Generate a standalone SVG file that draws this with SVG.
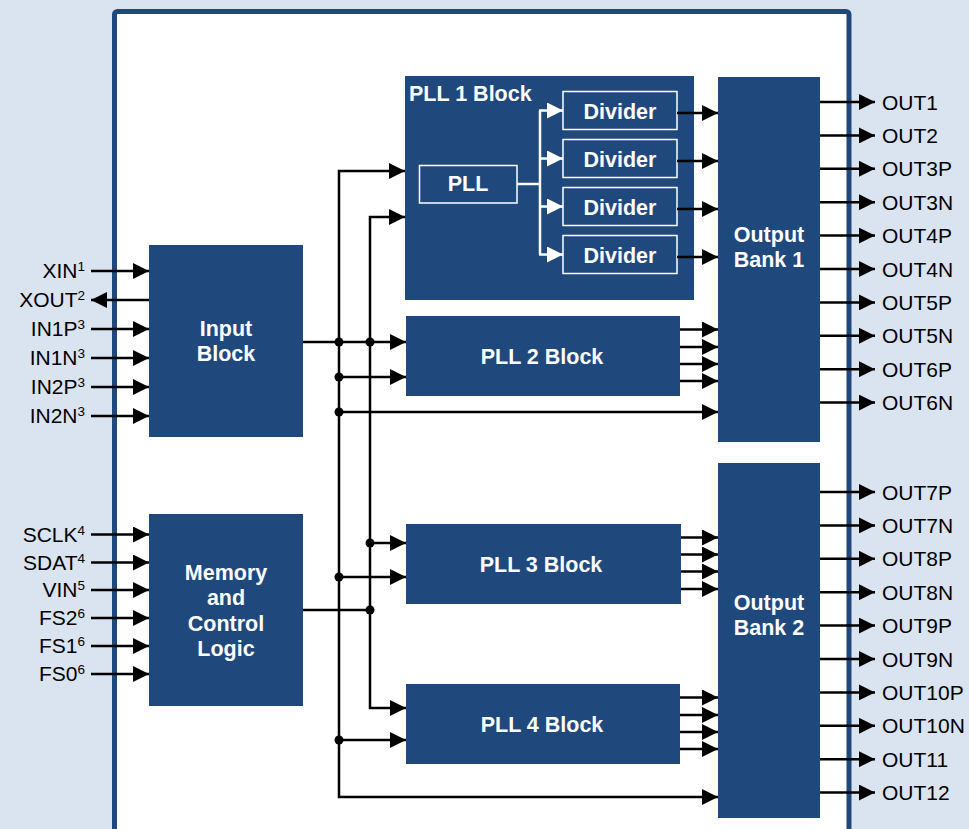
<svg xmlns="http://www.w3.org/2000/svg" width="969" height="829" viewBox="0 0 969 829">
<defs>
<style>
.blk{fill:#1f497d}
.inner{fill:#1f497d;stroke:#fff;stroke-width:1.5}
.lbl{font-family:"Liberation Sans",Arial,sans-serif;font-weight:bold;font-size:21.5px;fill:#fff;text-anchor:middle}
.pin{font-family:"Liberation Sans",Arial,sans-serif;font-size:21px;fill:#000}
.pinl{text-anchor:end}
.sup{font-size:13.5px}
.wire{fill:none;stroke:#000;stroke-width:2.5}
.wwire{fill:none;stroke:#fff;stroke-width:2.5}
.dot{fill:#000}
</style>
<marker id="ah" markerUnits="userSpaceOnUse" markerWidth="16" markerHeight="16" refX="16" refY="8" orient="auto" viewBox="0 0 16 16">
<path d="M0,0 L16,8 L0,16 z" fill="#000"/>
</marker>
<marker id="wah" markerUnits="userSpaceOnUse" markerWidth="16" markerHeight="16" refX="16" refY="8" orient="auto" viewBox="0 0 16 16">
<path d="M0,0 L16,8 L0,16 z" fill="#fff"/>
</marker>
</defs>
<rect x="0" y="0" width="969" height="829" fill="#dae3f0"/>
<rect id="chip" x="114.5" y="11.5" width="734.5" height="830" rx="3" fill="#fff" stroke="#1f497d" stroke-width="5"/>

<g id="input-block">
<rect class="blk" x="149" y="245" width="154" height="192"/>
<text class="lbl" x="226" y="336">Input</text>
<text class="lbl" x="226" y="361">Block</text>
</g>
<g id="memory-control">
<rect class="blk" x="149" y="514" width="154" height="192"/>
<text class="lbl" x="226" y="580">Memory</text>
<text class="lbl" x="226" y="605">and</text>
<text class="lbl" x="226" y="631">Control</text>
<text class="lbl" x="226" y="656">Logic</text>
</g>
<g id="pll1-block">
<rect class="blk" x="405" y="76" width="289" height="224"/>
<text class="lbl" x="409" y="101" style="text-anchor:start">PLL 1 Block</text>
<g id="pll1-pll">
<rect class="inner" x="419.5" y="165.5" width="97.5" height="37.5"/>
<text class="lbl" x="468" y="191">PLL</text>
</g>
<g id="divider1"><rect class="inner" x="563" y="91.5" width="114" height="38"/><text class="lbl" x="620" y="118.5">Divider</text></g>
<g id="divider2"><rect class="inner" x="563" y="139.5" width="114" height="38"/><text class="lbl" x="620" y="166.5">Divider</text></g>
<g id="divider3"><rect class="inner" x="563" y="187.5" width="114" height="38"/><text class="lbl" x="620" y="214.5">Divider</text></g>
<g id="divider4"><rect class="inner" x="563" y="235.5" width="114" height="38"/><text class="lbl" x="620" y="262.5">Divider</text></g>
</g>
<g id="pll2-block">
<rect class="blk" x="406" y="316" width="274" height="80"/>
<text class="lbl" x="542" y="364">PLL 2 Block</text>
</g>
<g id="pll3-block">
<rect class="blk" x="406" y="524" width="275" height="80"/>
<text class="lbl" x="541" y="572">PLL 3 Block</text>
</g>
<g id="pll4-block">
<rect class="blk" x="406" y="684" width="274" height="80"/>
<text class="lbl" x="542" y="732">PLL 4 Block</text>
</g>
<g id="output-bank1">
<rect class="blk" x="718" y="77" width="102" height="365"/>
<text class="lbl" x="769" y="242">Output</text>
<text class="lbl" x="769" y="267">Bank 1</text>
</g>
<g id="output-bank2">
<rect class="blk" x="718" y="463" width="102" height="355"/>
<text class="lbl" x="769" y="610">Output</text>
<text class="lbl" x="769" y="635">Bank 2</text>
</g>

<g id="connectors">
<path class="wwire" d="M517,184 H540" stroke-width="3"/>
<path class="wwire" d="M540,110.5 V254.5"/>
<path class="wwire" marker-end="url(#wah)" d="M539,110.5 H563"/>
<path class="wwire" marker-end="url(#wah)" d="M539,158.5 H563"/>
<path class="wwire" marker-end="url(#wah)" d="M539,206.5 H563"/>
<path class="wwire" marker-end="url(#wah)" d="M539,254.5 H563"/>
<path class="wire" marker-end="url(#ah)" d="M91,271 H149"/>
<path class="wire" marker-end="url(#ah)" d="M149,300 H91"/>
<path class="wire" marker-end="url(#ah)" d="M91,329 H149"/>
<path class="wire" marker-end="url(#ah)" d="M91,358 H149"/>
<path class="wire" marker-end="url(#ah)" d="M91,387 H149"/>
<path class="wire" marker-end="url(#ah)" d="M91,416 H149"/>
<path class="wire" marker-end="url(#ah)" d="M91,534.5 H149"/>
<path class="wire" marker-end="url(#ah)" d="M91,562.5 H149"/>
<path class="wire" marker-end="url(#ah)" d="M91,590 H149"/>
<path class="wire" marker-end="url(#ah)" d="M91,618 H149"/>
<path class="wire" marker-end="url(#ah)" d="M91,646 H149"/>
<path class="wire" marker-end="url(#ah)" d="M91,674 H149"/>
<path class="wire" marker-end="url(#ah)" d="M339,500 V171 H405"/>
<path class="wire" marker-end="url(#ah)" d="M339,500 V797 H718"/>
<path class="wire" marker-end="url(#ah)" d="M370,400 V217 H405"/>
<path class="wire" marker-end="url(#ah)" d="M370,400 V708 H406"/>
<path class="wire" marker-end="url(#ah)" d="M303,342 H406"/>
<path class="wire" marker-end="url(#ah)" d="M339,377 H406"/>
<path class="wire" marker-end="url(#ah)" d="M339,412 H718"/>
<path class="wire" marker-end="url(#ah)" d="M370,543 H406"/>
<path class="wire" marker-end="url(#ah)" d="M339,577 H406"/>
<path class="wire" d="M303,610 H370"/>
<path class="wire" marker-end="url(#ah)" d="M339,740 H406"/>
<path class="wire" marker-end="url(#ah)" d="M677,113 H718"/>
<path class="wire" marker-end="url(#ah)" d="M677,161 H718"/>
<path class="wire" marker-end="url(#ah)" d="M677,209 H718"/>
<path class="wire" marker-end="url(#ah)" d="M677,257 H718"/>
<path class="wire" marker-end="url(#ah)" d="M680,329.5 H718"/>
<path class="wire" marker-end="url(#ah)" d="M680,347 H718"/>
<path class="wire" marker-end="url(#ah)" d="M680,364 H718"/>
<path class="wire" marker-end="url(#ah)" d="M680,381 H718"/>
<path class="wire" marker-end="url(#ah)" d="M681,537.5 H718"/>
<path class="wire" marker-end="url(#ah)" d="M681,554.5 H718"/>
<path class="wire" marker-end="url(#ah)" d="M681,571.5 H718"/>
<path class="wire" marker-end="url(#ah)" d="M681,589 H718"/>
<path class="wire" marker-end="url(#ah)" d="M680,697.5 H718"/>
<path class="wire" marker-end="url(#ah)" d="M680,715 H718"/>
<path class="wire" marker-end="url(#ah)" d="M680,732 H718"/>
<path class="wire" marker-end="url(#ah)" d="M680,749 H718"/>
<path class="wire" marker-end="url(#ah)" d="M820,102 H875"/>
<path class="wire" marker-end="url(#ah)" d="M820,135.4 H875"/>
<path class="wire" marker-end="url(#ah)" d="M820,168.8 H875"/>
<path class="wire" marker-end="url(#ah)" d="M820,202.2 H875"/>
<path class="wire" marker-end="url(#ah)" d="M820,235.6 H875"/>
<path class="wire" marker-end="url(#ah)" d="M820,269 H875"/>
<path class="wire" marker-end="url(#ah)" d="M820,302.4 H875"/>
<path class="wire" marker-end="url(#ah)" d="M820,335.8 H875"/>
<path class="wire" marker-end="url(#ah)" d="M820,369.2 H875"/>
<path class="wire" marker-end="url(#ah)" d="M820,402.6 H875"/>
<path class="wire" marker-end="url(#ah)" d="M820,492 H875"/>
<path class="wire" marker-end="url(#ah)" d="M820,525.4 H875"/>
<path class="wire" marker-end="url(#ah)" d="M820,558.8 H875"/>
<path class="wire" marker-end="url(#ah)" d="M820,592.2 H875"/>
<path class="wire" marker-end="url(#ah)" d="M820,625.6 H875"/>
<path class="wire" marker-end="url(#ah)" d="M820,659 H875"/>
<path class="wire" marker-end="url(#ah)" d="M820,692.4 H875"/>
<path class="wire" marker-end="url(#ah)" d="M820,725.8 H875"/>
<path class="wire" marker-end="url(#ah)" d="M820,759.2 H875"/>
<path class="wire" marker-end="url(#ah)" d="M820,792.6 H875"/>
<circle class="dot" cx="339" cy="342" r="4.5"/>
<circle class="dot" cx="370" cy="342" r="4.5"/>
<circle class="dot" cx="339" cy="377" r="4.5"/>
<circle class="dot" cx="339" cy="412" r="4.5"/>
<circle class="dot" cx="370" cy="543" r="4.5"/>
<circle class="dot" cx="339" cy="577" r="4.5"/>
<circle class="dot" cx="370" cy="610" r="4.5"/>
<circle class="dot" cx="339" cy="740" r="4.5"/>
</g>

<g id="pin-labels">
<text class="pin pinl" x="85" y="278">XIN<tspan class="sup" dy="-7">1</tspan></text>
<text class="pin pinl" x="85" y="307">XOUT<tspan class="sup" dy="-7">2</tspan></text>
<text class="pin pinl" x="85" y="336">IN1P<tspan class="sup" dy="-7">3</tspan></text>
<text class="pin pinl" x="85" y="365">IN1N<tspan class="sup" dy="-7">3</tspan></text>
<text class="pin pinl" x="85" y="394">IN2P<tspan class="sup" dy="-7">3</tspan></text>
<text class="pin pinl" x="85" y="423">IN2N<tspan class="sup" dy="-7">3</tspan></text>
<text class="pin pinl" x="85" y="541.5">SCLK<tspan class="sup" dy="-7">4</tspan></text>
<text class="pin pinl" x="85" y="569.5">SDAT<tspan class="sup" dy="-7">4</tspan></text>
<text class="pin pinl" x="85" y="597">VIN<tspan class="sup" dy="-7">5</tspan></text>
<text class="pin pinl" x="85" y="625">FS2<tspan class="sup" dy="-7">6</tspan></text>
<text class="pin pinl" x="85" y="653">FS1<tspan class="sup" dy="-7">6</tspan></text>
<text class="pin pinl" x="85" y="681">FS0<tspan class="sup" dy="-7">6</tspan></text>
<text class="pin" x="882" y="109.5">OUT1</text>
<text class="pin" x="882" y="142.9">OUT2</text>
<text class="pin" x="882" y="176.3">OUT3P</text>
<text class="pin" x="882" y="209.7">OUT3N</text>
<text class="pin" x="882" y="243.1">OUT4P</text>
<text class="pin" x="882" y="276.5">OUT4N</text>
<text class="pin" x="882" y="309.9">OUT5P</text>
<text class="pin" x="882" y="343.3">OUT5N</text>
<text class="pin" x="882" y="376.7">OUT6P</text>
<text class="pin" x="882" y="410.1">OUT6N</text>
<text class="pin" x="882" y="499.5">OUT7P</text>
<text class="pin" x="882" y="532.9">OUT7N</text>
<text class="pin" x="882" y="566.3">OUT8P</text>
<text class="pin" x="882" y="599.7">OUT8N</text>
<text class="pin" x="882" y="633.1">OUT9P</text>
<text class="pin" x="882" y="666.5">OUT9N</text>
<text class="pin" x="882" y="699.9">OUT10P</text>
<text class="pin" x="882" y="733.3">OUT10N</text>
<text class="pin" x="882" y="766.7">OUT11</text>
<text class="pin" x="882" y="800.1">OUT12</text>
</g>
</svg>
